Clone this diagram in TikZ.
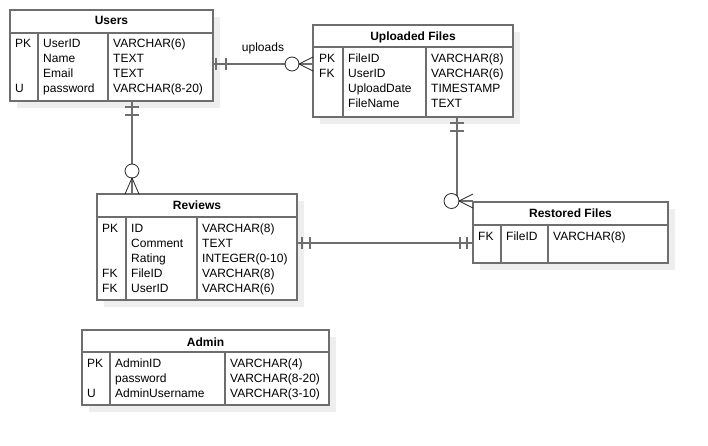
\documentclass[tikz,border=0pt]{standalone}
\usepackage{fontspec}
\setmainfont{Liberation Sans}
\usetikzlibrary{calc}

\definecolor{linegray}{HTML}{6E6E6E}
\definecolor{shadowgray}{HTML}{EEEEEE}

\begin{document}
\begin{tikzpicture}[x=1pt, y=-1pt,
    tbl/.style={draw=linegray, line width=1.6pt},
    shade/.style={fill=shadowgray},
    lnk/.style={draw=linegray, line width=1.6pt},
    notch/.style={draw=linegray, line width=1.4pt},
    ring/.style={draw=black!85, fill=white, line width=0.8pt},
    crow/.style={draw=black!85, line width=0.8pt},
    fld/.style={anchor=base west, inner sep=0pt, font=\fontsize{12}{15}\selectfont},
    ttl/.style={anchor=base, inner sep=0pt, font=\bfseries\fontsize{12}{15}\selectfont}]

    \useasboundingbox (0,0) rectangle (708,446);
    \fill[white] (0,0) rectangle (708,446);

    % Users
    \fill[shade] (17,17) rectangle (220,108);
    \fill[white] (10,10) rectangle (213,101);
    \draw[tbl] (10,10) rectangle (213,101);
    \draw[tbl] (10,33) -- (213,33) (38,33) -- (38,101) (108,33) -- (108,101);
    \node[ttl] (users) at (111.5,25) {Users};
    \foreach \k/\f/\t [count=\i] in {PK/UserID/VARCHAR(6), /Name/TEXT, /Email/TEXT, U/password/VARCHAR(8-20)} {
        \node[fld] (users-k\i) at (15,33+15*\i) {\k};
        \node[fld] (users-f\i) at (43,33+15*\i) {\f};
        \node[fld] (users-t\i) at (113,33+15*\i) {\t};
    }

    % Uploaded Files
    \fill[shade] (320,32) rectangle (520,124);
    \fill[white] (313,25) rectangle (513,117);
    \draw[tbl] (313,25) rectangle (513,117);
    \draw[tbl] (313,47) -- (513,47) (343,47) -- (343,117) (426,47) -- (426,117);
    \node[ttl] (files) at (413,41) {Uploaded Files};
    \foreach \k/\f/\t [count=\i] in {PK/FileID/VARCHAR(8), FK/UserID/VARCHAR(6), /UploadDate/TIMESTAMP, /FileName/TEXT} {
        \node[fld] (files-k\i) at (319,48+15*\i) {\k};
        \node[fld] (files-f\i) at (348,48+15*\i) {\f};
        \node[fld] (files-t\i) at (431,48+15*\i) {\t};
    }

    % Reviews
    \fill[shade] (104,201) rectangle (304,307);
    \fill[white] (97,194) rectangle (297,300);
    \draw[tbl] (97,194) rectangle (297,300);
    \draw[tbl] (97,217) -- (297,217) (126,217) -- (126,300) (197,217) -- (197,300);
    \node[ttl] (reviews) at (197,209) {Reviews};
    \foreach \k/\f/\t [count=\i] in {PK/ID/VARCHAR(8), /Comment/TEXT, /Rating/INTEGER(0-10), FK/FileID/VARCHAR(8), FK/UserID/VARCHAR(6)} {
        \node[fld] (reviews-k\i) at (102,217+15*\i) {\k};
        \node[fld] (reviews-f\i) at (131,217+15*\i) {\f};
        \node[fld] (reviews-t\i) at (202,217+15*\i) {\t};
    }

    % Restored Files
    \fill[shade] (480,209) rectangle (675,270);
    \fill[white] (473,202) rectangle (668,263);
    \draw[tbl] (473,202) rectangle (668,263);
    \draw[tbl] (473,225) -- (668,225) (501,225) -- (501,263) (548,225) -- (548,263);
    \node[ttl] (restored) at (570.5,217) {Restored Files};
    \node[fld] (restored-k1) at (478,240.5) {FK};
    \node[fld] (restored-f1) at (506,240.5) {FileID};
    \node[fld] (restored-t1) at (553,240.5) {VARCHAR(8)};

    % Admin
    \fill[shade] (89,337) rectangle (336,412);
    \fill[white] (82,330) rectangle (329,405);
    \draw[tbl] (82,330) rectangle (329,405);
    \draw[tbl] (82,352) -- (329,352) (110,352) -- (110,405) (225,352) -- (225,405);
    \node[ttl] (admin) at (205.5,346) {Admin};
    \foreach \k/\f/\t [count=\i] in {PK/AdminID/VARCHAR(4), /password/VARCHAR(8-20), U/AdminUsername/VARCHAR(3-10)} {
        \node[fld] (admin-k\i) at (87,352+15*\i) {\k};
        \node[fld] (admin-f\i) at (115,352+15*\i) {\f};
        \node[fld] (admin-t\i) at (230,352+15*\i) {\t};
    }

    % ends of the links
    \coordinate (users-out) at (213,64);   \coordinate (files-in) at (313,64);
    \coordinate (users-down) at (132,101); \coordinate (reviews-in) at (132,194);
    \coordinate (files-out) at (457,117);  \coordinate (restored-in) at (473,201);
    \coordinate (reviews-out) at (297,243); \coordinate (restored-w) at (473,243);

    % Users -- Uploaded Files
    \draw[lnk] (users-out) -- (files-in);
    \draw[notch] ($(users-out)+(3,-6)$) -- ++(0,12) ($(users-out)+(13,-6)$) -- ++(0,12);
    \draw[ring] ($(files-in)+(-21,0)$) circle (7);
    \draw[crow] ($(files-in)+(0,-7)$) -- ($(files-in)+(-14,0)$) -- ($(files-in)+(0,7)$);
    \node[anchor=base, inner sep=0pt, font=\fontsize{12}{15}\selectfont] (uploads) at (263,52) {uploads};

    % Users -- Reviews
    \draw[lnk] (users-down) -- (reviews-in);
    \draw[notch] ($(users-down)+(-7,6)$) -- ++(14,0) ($(users-down)+(-7,14)$) -- ++(14,0);
    \draw[ring] ($(reviews-in)+(0,-23)$) circle (7);
    \draw[crow] ($(reviews-in)+(-7,0)$) -- ($(reviews-in)+(0,-16)$) -- ($(reviews-in)+(7,0)$);

    % Uploaded Files -- Restored Files
    \draw[lnk] (files-out) |- (restored-in);
    \draw[notch] ($(files-out)+(-7,6)$) -- ++(14,0) ($(files-out)+(-7,14)$) -- ++(14,0);
    \draw[ring] ($(restored-in)+(-21.5,0)$) circle (7.5);
    \draw[crow] ($(restored-in)+(0,-7)$) -- ($(restored-in)+(-14,0)$) -- ($(restored-in)+(0,7)$);

    % Reviews -- Restored Files
    \draw[lnk] (reviews-out) -- (restored-w);
    \draw[notch] ($(reviews-out)+(5,-6)$) -- ++(0,12) ($(reviews-out)+(13,-6)$) -- ++(0,12);
    \draw[notch] ($(restored-w)+(-13,-6)$) -- ++(0,12) ($(restored-w)+(-6,-6)$) -- ++(0,12);
\end{tikzpicture}
\end{document}
